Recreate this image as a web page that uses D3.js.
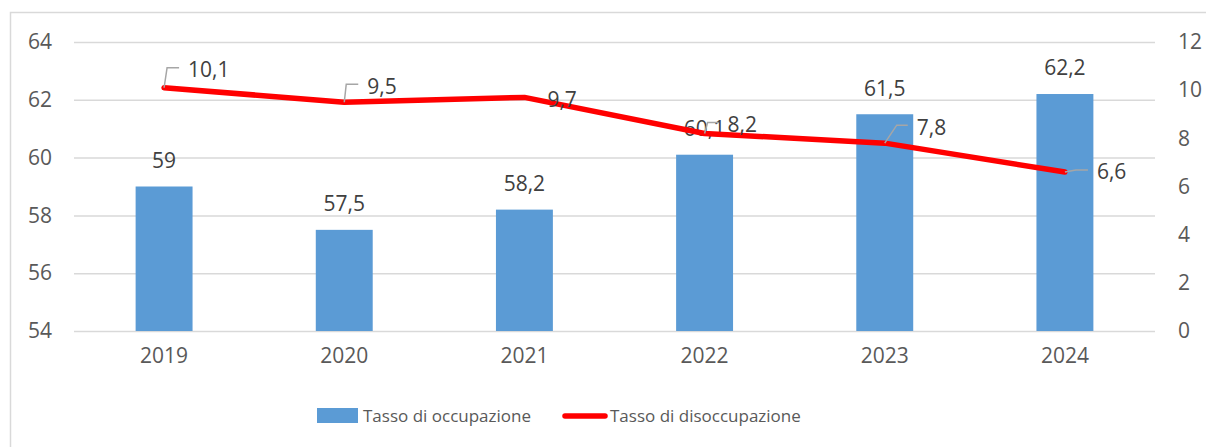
<!DOCTYPE html>
<html>
<head>
<meta charset="utf-8">
<script src="https://cdn.jsdelivr.net/npm/d3@7"></script>
<style>
  body { margin: 0; background: #fff; }
  svg { display: block; font-family: "Open Sans", sans-serif; }
  .axis text { fill: #595959; font-size: 21px; font-family: "Open Sans", sans-serif; }
  .axis .domain { display: none; }
</style>
</head>
<body>
<script>
const years = ["2019", "2020", "2021", "2022", "2023", "2024"];
const occupazione = [59, 57.5, 58.2, 60.1, 61.5, 62.2];
const disoccupazione = [10.1, 9.5, 9.7, 8.2, 7.8, 6.6];
const leftTicks = [54, 56, 58, 60, 62, 64];
const rightTicks = [0, 2, 4, 6, 8, 10, 12];
const seriesNames = ["Tasso di occupazione", "Tasso di disoccupazione"];

// where each line label sits relative to its point (text start, centre y, leader elbow)
const lineLabelPos = [
  {dx: 24, dy: -18, elbow: 3},
  {dx: 23, dy: -16, elbow: 2},
  {dx: 23, dy: 2, elbow: null},
  {dx: 23, dy: -9, elbow: 3},
  {dx: 32, dy: -16, elbow: 12},
  {dx: 32, dy: 0, elbow: 11}
];

const fmt = d => String(d).replace(".", ",");

const width = 1206, height = 447;
const plotLeft = 74, plotRight = 1155, plotTop = 42, plotBottom = 331;

const svg = d3.select("body").append("svg")
  .attr("width", width)
  .attr("height", height);

// chart frame (only left and top visible in the crop)
svg.append("path")
  .attr("d", `M10.5,${height + 2}V12.5H${width + 2}`)
  .attr("fill", "none")
  .attr("stroke", "#d9d9d9")
  .attr("stroke-width", 1.5);

const x = d3.scaleBand()
  .domain(years)
  .range([plotLeft, plotRight])
  .paddingInner(0.684)
  .paddingOuter(0.342);

const yL = d3.scaleLinear().domain([54, 64]).range([plotBottom, plotTop]);
const yR = d3.scaleLinear().domain([0, 12]).range([plotBottom, plotTop]);

const gL = svg.append("g")
  .attr("class", "axis")
  .attr("transform", `translate(${plotLeft},0)`)
  .call(d3.axisLeft(yL).tickValues(leftTicks).tickSize(-(plotRight - plotLeft)).tickPadding(22).tickFormat(fmt));
gL.selectAll(".tick line").attr("stroke", "#d9d9d9").attr("stroke-width", 1.5);

svg.append("g")
  .attr("class", "axis")
  .attr("transform", `translate(${plotRight},0)`)
  .call(d3.axisRight(yR).tickValues(rightTicks).tickSize(0).tickPadding(23));

svg.append("g")
  .attr("class", "axis")
  .attr("transform", `translate(0,${plotBottom})`)
  .call(d3.axisBottom(x).tickSize(0).tickPadding(17));

// bars
svg.append("g").selectAll("rect")
  .data(occupazione)
  .join("rect")
  .attr("x", (d, i) => x(years[i]))
  .attr("y", d => yL(d))
  .attr("width", x.bandwidth())
  .attr("height", d => plotBottom - yL(d))
  .attr("fill", "#5b9bd5");

svg.append("g").selectAll("text")
  .data(occupazione)
  .join("text")
  .attr("x", (d, i) => x(years[i]) + x.bandwidth() / 2)
  .attr("y", d => yL(d) - 26)
  .attr("dy", "0.35em")
  .attr("text-anchor", "middle")
  .attr("fill", "#404040")
  .attr("font-size", 21)
  .text(fmt);

// line
const cx = i => x(years[i]) + x.bandwidth() / 2;
const line = d3.line()
  .x((d, i) => cx(i))
  .y(d => yR(d));

svg.append("path")
  .datum(disoccupazione)
  .attr("d", line)
  .attr("fill", "none")
  .attr("stroke", "#ff0000")
  .attr("stroke-width", 5.5)
  .attr("stroke-linejoin", "round")
  .attr("stroke-linecap", "round");

// leaders + labels
const lab = svg.append("g");
disoccupazione.forEach((d, i) => {
  const px = cx(i), py = yR(d), p = lineLabelPos[i];
  const tx = px + p.dx, ty = py + p.dy;
  if (p.elbow !== null) {
    lab.append("path")
      .attr("d", `M${px},${py}L${px + p.elbow},${ty - 2}L${tx - 9},${ty - 2}`)
      .attr("fill", "none")
      .attr("stroke", "#a6a6a6")
      .attr("stroke-width", 1.5);
  }
  lab.append("text")
    .attr("x", tx)
    .attr("y", ty)
    .attr("dy", "0.35em")
    .attr("fill", "#404040")
    .attr("font-size", 21)
    .text(fmt(d));
});

// legend
const leg = svg.append("g").attr("font-size", 17).attr("fill", "#595959");
leg.append("rect")
  .attr("x", 317).attr("y", 408)
  .attr("width", 41).attr("height", 15)
  .attr("fill", "#5b9bd5");
leg.append("text").attr("x", 363).attr("y", 416).attr("dy", "0.35em").text(seriesNames[0]);
leg.append("line")
  .attr("x1", 565).attr("x2", 605)
  .attr("y1", 416).attr("y2", 416)
  .attr("stroke", "#ff0000").attr("stroke-width", 5.5)
  .attr("stroke-linecap", "round");
leg.append("text").attr("x", 610).attr("y", 416).attr("dy", "0.35em").text(seriesNames[1]);
</script>
</body>
</html>
